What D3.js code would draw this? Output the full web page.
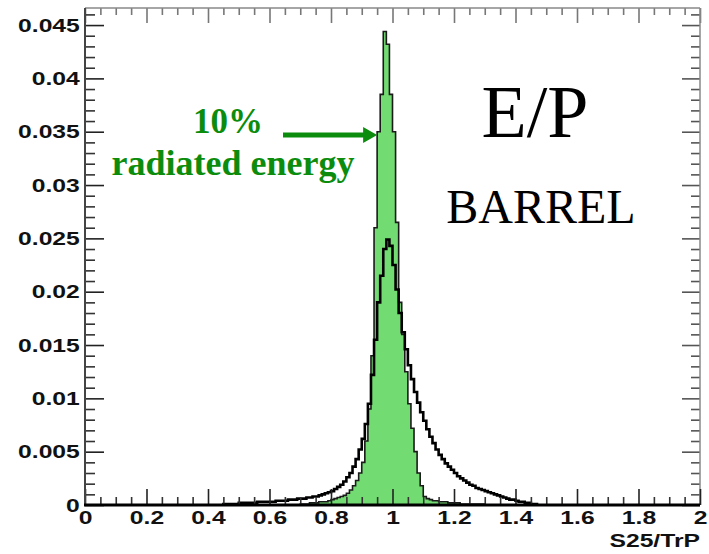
<!DOCTYPE html>
<meta charset="utf-8">
<head>
	<title>E/P barrel</title>
	<style>
		body { margin: 0; background: #fff; }
		svg { display: block; }
		.lbl { font: bold 19px "Liberation Sans", Arial, sans-serif; fill: #111; }
		.note { font-family: "Liberation Serif", "Times New Roman", serif; }
	</style>
	<script src="https://d3js.org/d3.v7.min.js"></script>
</head>
<body>
<div id="graph"></div>
<script>
	// histogram bins, width 0.01, first bin edge given by *Start
	const BIN = 0.01;
	const narrowStart = 0.70; // 10% radiated energy (filled)
	const narrowVals = [
		0.0001, 0.0001, 0.0001, 0.0002, 0.0002, 0.0002, 0.0003, 0.0003, 0.0003, 0.0004,
		0.0005, 0.0006, 0.0007, 0.0008, 0.0009, 0.0011, 0.0014, 0.0018, 0.0023, 0.0030,
		0.0040, 0.0060, 0.0090, 0.0140, 0.0260, 0.0350, 0.0385, 0.0444, 0.0432, 0.0385,
		0.0350, 0.0265, 0.0190, 0.0160, 0.0125, 0.0095, 0.0072, 0.0050, 0.0030, 0.0018,
		0.0008, 0.0006, 0.0005, 0.0004, 0.0004, 0.0003, 0.0003, 0.0003, 0.0002, 0.0002,
		0.0002, 0.0002, 0.0001, 0.0001, 0.0001, 0.0001, 0.0001, 0.0001, 0.0001, 0.0001
	];
	const wideStart = 0.45; // all electrons (outline)
	const wideVals = [
		0.0001, 0.0001, 0.0001, 0.0001, 0.0001, 0.0002, 0.0002, 0.0002, 0.0002, 0.0002,
		0.0002, 0.0003, 0.0003, 0.0003, 0.0003, 0.0003, 0.0003, 0.0004, 0.0004, 0.0004,
		0.0004, 0.0005, 0.0005, 0.0005, 0.0006, 0.0006, 0.0006, 0.0007, 0.0007, 0.0008,
		0.0008, 0.0009, 0.0010, 0.0011, 0.0012, 0.0013, 0.0015, 0.0017, 0.0019, 0.0022,
		0.0026, 0.0030, 0.0036, 0.0043, 0.0052, 0.0062, 0.0076, 0.0095, 0.0122, 0.0155,
		0.0190, 0.0215, 0.0240, 0.0249, 0.0243, 0.0225, 0.0202, 0.0180, 0.0162, 0.0146,
		0.0131, 0.0118, 0.0106, 0.0096, 0.0087, 0.0079, 0.0071, 0.0064, 0.0058, 0.0052,
		0.0047, 0.0043, 0.0039, 0.0036, 0.0033, 0.0030, 0.0027, 0.0025, 0.0023, 0.0021,
		0.0019, 0.0018, 0.0016, 0.0015, 0.0014, 0.0013, 0.0012, 0.0011, 0.0010, 0.0009,
		0.0008, 0.0007, 0.0006, 0.0005, 0.0005, 0.0004, 0.0003, 0.0003, 0.0002, 0.0002,
		0.0001, 0.0001
	];

	const xTicks = [0, 0.2, 0.4, 0.6, 0.8, 1, 1.2, 1.4, 1.6, 1.8, 2];
	const xTickLabels = ['0', '0.2', '0.4', '0.6', '0.8', '1', '1.2', '1.4', '1.6', '1.8', '2'];
	const yTicks = [0, 0.005, 0.01, 0.015, 0.02, 0.025, 0.03, 0.035, 0.04, 0.045];
	const yTickLabels = ['0', '0.005', '0.01', '0.015', '0.02', '0.025', '0.03', '0.035', '0.04', '0.045'];
	const xMinor = d3.range(0, 41).map(i => i * 0.05).filter(v => Math.round(v * 100) % 20 !== 0);
	const yMinor = d3.range(0, 47).map(i => i * 0.001).filter(v => Math.round(v * 1000) % 5 !== 0);

	const W = 709, H = 554;
	const L = 85, R = 700, T = 8, B = 505;
	const GREEN = '#0c8c0c';

	const svg = d3.select('#graph').append('svg').attr('width', W).attr('height', H);

	const x = d3.scaleLinear().domain([0, 2]).range([L, R]);
	const y = d3.scaleLinear().domain([0, 0.0466]).range([B, T]);

	// turn bin list into step points, closed at the baseline
	function steps(start, vals) {
		let pts = vals.map((v, i) => [start + i * BIN, v]);
		pts.unshift([start, 0]);
		pts.push([start + vals.length * BIN, vals[vals.length - 1]]);
		pts.push([start + vals.length * BIN, 0]);
		return pts;
	}
	const narrowPts = steps(narrowStart, narrowVals);
	const widePts = steps(wideStart, wideVals);

	const area = d3.area().curve(d3.curveStepAfter).x(d => x(d[0])).y0(y(0)).y1(d => y(d[1]));
	const line = d3.line().curve(d3.curveStepAfter).x(d => x(d[0])).y(d => y(d[1]));

	const hist = svg.append('g');
	hist.append('path').attr('d', area(narrowPts)).attr('fill', '#72dc72');
	hist.append('path').attr('d', line(narrowPts)).attr('fill', 'none').attr('stroke', '#1a1a1a').attr('stroke-width', 1.6);
	hist.append('path').attr('d', line(widePts)).attr('fill', 'none').attr('stroke', '#000').attr('stroke-width', 2.6);

	// frame axes
	function styleAxis(g, col, w) {
		g.selectAll('.tick line').attr('stroke', col).attr('stroke-width', w);
		g.select('.domain').remove();
	}
	// top + right (grey, no labels)
	const topAx = svg.append('g').attr('transform', `translate(0,${T})`)
		.call(d3.axisTop(x).tickValues(xTicks).tickSize(-15).tickFormat(''));
	styleAxis(topAx, '#777', 1.6);
	const topMin = svg.append('g').attr('transform', `translate(0,${T})`)
		.call(d3.axisTop(x).tickValues(xMinor).tickSize(-7).tickFormat(''));
	styleAxis(topMin, '#777', 1.6);
	const rightAx = svg.append('g').attr('transform', `translate(${R},0)`)
		.call(d3.axisRight(y).tickValues(yTicks).tickSize(-18).tickFormat(''));
	styleAxis(rightAx, '#555', 1.6);
	const rightMin = svg.append('g').attr('transform', `translate(${R},0)`)
		.call(d3.axisRight(y).tickValues(yMinor).tickSize(-9).tickFormat(''));
	styleAxis(rightMin, '#555', 1.6);

	svg.append('line').attr('x1', L).attr('x2', R).attr('y1', T).attr('y2', T).attr('stroke', '#888').attr('stroke-width', 1.5);
	svg.append('line').attr('x1', R).attr('x2', R).attr('y1', T).attr('y2', B).attr('stroke', '#888').attr('stroke-width', 1.5);

	// bottom
	const bottomAx = svg.append('g').attr('transform', `translate(0,${B})`)
		.call(d3.axisBottom(x).tickValues(xTicks).tickSize(-16).tickPadding(6).tickFormat((d, i) => xTickLabels[i]));
	styleAxis(bottomAx, '#222', 1.6);
	bottomAx.selectAll('text').attr('class', 'lbl').attr('transform', 'scale(1.3,1)');
	const bottomMin = svg.append('g').attr('transform', `translate(0,${B})`)
		.call(d3.axisBottom(x).tickValues(xMinor).tickSize(-8).tickFormat(''));
	styleAxis(bottomMin, '#333', 1.6);

	// left
	const leftAx = svg.append('g').attr('transform', `translate(${L},0)`)
		.call(d3.axisLeft(y).tickValues(yTicks).tickSize(-19).tickPadding(4).tickFormat((d, i) => yTickLabels[i]));
	styleAxis(leftAx, '#222', 1.6);
	leftAx.selectAll('text').attr('class', 'lbl').attr('transform', 'scale(1.3,1)');
	const leftMin = svg.append('g').attr('transform', `translate(${L},0)`)
		.call(d3.axisLeft(y).tickValues(yMinor).tickSize(-10).tickFormat(''));
	styleAxis(leftMin, '#333', 1.6);

	svg.append('line').attr('x1', L).attr('x2', L).attr('y1', T).attr('y2', B).attr('stroke', '#444').attr('stroke-width', 2);
	svg.append('line').attr('x1', L - 1).attr('x2', R).attr('y1', B).attr('y2', B).attr('stroke', '#000').attr('stroke-width', 3);

	// axis title
	svg.append('text').attr('class', 'lbl')
		.attr('transform', `translate(${R},547) scale(1.3,1)`)
		.attr('text-anchor', 'end').text('S25/TrP');

	// annotations
	const note = svg.append('g').attr('class', 'note');
	note.append('text').attr('x', 228).attr('y', 133).attr('text-anchor', 'middle')
		.attr('font-size', 35).attr('font-weight', 'bold').attr('fill', GREEN).text('10%');
	note.append('text').attr('x', 233).attr('y', 175).attr('text-anchor', 'middle')
		.attr('font-size', 36).attr('font-weight', 'bold').attr('fill', GREEN).text('radiated energy');

	const tipX = x(0.95), tipY = 135;
	note.append('line').attr('x1', 283).attr('x2', tipX - 12).attr('y1', tipY).attr('y2', tipY)
		.attr('stroke', GREEN).attr('stroke-width', 5);
	note.append('path').attr('d', `M${tipX},${tipY} L${tipX - 14},${tipY - 8} L${tipX - 14},${tipY + 8} Z`).attr('fill', GREEN);

	note.append('text').attr('x', 535).attr('y', 137).attr('text-anchor', 'middle')
		.attr('font-size', 74).attr('fill', '#000').text('E/P');
	note.append('text').attr('x', 541).attr('y', 223).attr('text-anchor', 'middle')
		.attr('font-size', 48).attr('fill', '#000').text('BARREL');
</script>
</body>
